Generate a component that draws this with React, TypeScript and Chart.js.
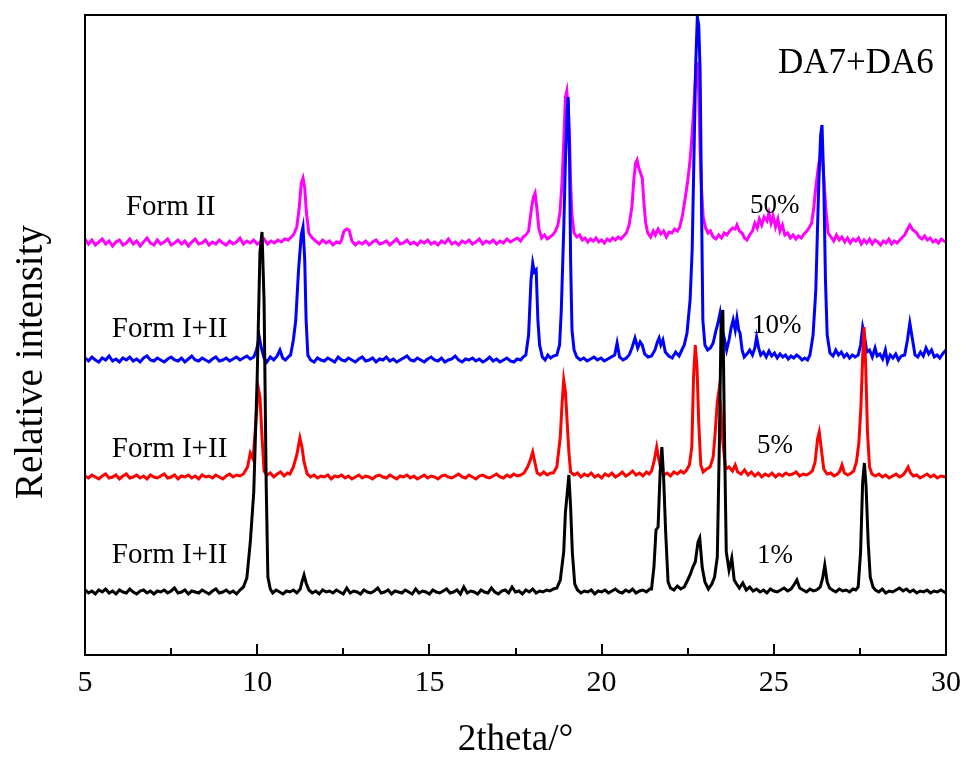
import React, { useEffect, useRef } from "react";
import { Chart, registerables } from "chart.js";

Chart.register(...registerables);

// Diffraction patterns, [2theta, intensity above own baseline]
const pattern1pct: [number, number][] = [
  [5.0, 2], [5.1, -1], [5.2, 1], [5.3, -2], [5.4, 2], [5.5, 0], [5.6, 3], [5.7, -1], [5.8, 1], [5.9, -2],
  [6.0, 2], [6.1, 0], [6.2, -1], [6.3, 3], [6.4, 0], [6.5, -2], [6.6, 1], [6.7, 2], [6.8, -1], [6.9, 1],
  [7.0, -2], [7.1, 1], [7.2, 0], [7.3, 2], [7.4, -1], [7.5, 1], [7.6, 4], [7.7, -1], [7.8, 0], [7.9, 2],
  [8.0, -2], [8.1, 1], [8.2, 0], [8.3, -1], [8.4, 2], [8.5, 0], [8.6, -2], [8.7, 1], [8.8, 3], [8.9, -1],
  [9.0, 0], [9.1, 2], [9.2, -1], [9.3, 1], [9.4, -2], [9.5, 2], [9.6, 5], [9.7, 14], [9.8, 50], [9.9, 100],
  [10.0, 215], [10.08, 340], [10.14, 360], [10.2, 290], [10.26, 110], [10.31, 15], [10.38, 3], [10.45, -1],
  [10.55, 2], [10.65, 0], [10.75, -2], [10.85, 1], [10.95, 0], [11.05, 2], [11.15, -1], [11.25, 3],
  [11.3, 10], [11.36, 17], [11.42, 9], [11.5, 2], [11.6, -1], [11.7, 1], [11.8, -2], [11.9, 2],
  [12.0, 0], [12.1, 1], [12.2, -1], [12.3, 2], [12.4, 0], [12.5, -2], [12.6, 4], [12.7, -1], [12.8, 1], [12.9, 0],
  [13.0, -2], [13.1, 2], [13.2, 0], [13.3, -1], [13.4, 1], [13.5, 4], [13.6, -1], [13.7, 0], [13.8, 2], [13.9, -2],
  [14.0, 1], [14.1, 0], [14.2, -1], [14.3, 2], [14.4, 0], [14.5, -2], [14.6, 3], [14.7, -1], [14.8, 1], [14.9, 0],
  [15.0, -2], [15.1, 2], [15.2, 0], [15.3, -1], [15.4, 1], [15.5, 3], [15.6, -1], [15.7, 0], [15.8, 2], [15.9, -2],
  [16.0, 5], [16.1, -1], [16.2, 1], [16.3, 0], [16.4, -2], [16.5, 2], [16.6, 0], [16.7, -1], [16.8, 4], [16.9, 0],
  [17.0, -2], [17.1, 1], [17.2, 2], [17.3, -1], [17.4, 5], [17.5, 0], [17.6, 1], [17.7, -2], [17.8, 2], [17.9, 0],
  [18.0, 3], [18.1, -1], [18.2, 1], [18.3, 0], [18.4, 2], [18.5, 1], [18.6, 3], [18.7, 4], [18.8, 12], [18.9, 40],
  [18.95, 80], [19.0, 98], [19.05, 117], [19.1, 85], [19.15, 40], [19.22, 8], [19.3, 2], [19.4, -1], [19.5, 1],
  [19.6, 0], [19.7, 2], [19.8, -2], [19.9, 1], [20.0, 0], [20.1, 2], [20.2, -1], [20.3, 1], [20.4, 3], [20.5, 0],
  [20.6, -1], [20.7, 2], [20.8, 0], [20.9, 3], [21.0, -1], [21.1, 1], [21.2, 2], [21.3, 0], [21.4, 3],
  [21.45, 3], [21.52, 25], [21.58, 62], [21.64, 65], [21.7, 120], [21.75, 145], [21.8, 115], [21.86, 60],
  [21.93, 10], [22.0, 4], [22.1, 2], [22.2, 6], [22.3, 3], [22.4, 5], [22.5, 12], [22.58, 18], [22.65, 25],
  [22.72, 30], [22.8, 50], [22.85, 54], [22.92, 25], [23.0, 10], [23.1, 3], [23.2, 8], [23.28, 15], [23.36, 35],
  [23.42, 150], [23.47, 270], [23.52, 282], [23.57, 150], [23.62, 40], [23.7, 22], [23.78, 34], [23.85, 12],
  [23.92, 8], [24.0, 4], [24.1, 9], [24.2, 2], [24.3, 5], [24.4, 1], [24.5, 3], [24.6, 0], [24.7, 2], [24.8, -1],
  [24.9, 3], [25.0, 1], [25.1, 0], [25.2, 2], [25.3, 4], [25.4, 1], [25.5, 3], [25.6, 8], [25.67, 12], [25.75, 4],
  [25.85, 2], [25.95, 0], [26.05, 3], [26.15, 1], [26.25, 2], [26.35, 5], [26.42, 14], [26.48, 27], [26.55, 10],
  [26.62, 4], [26.7, 2], [26.8, 0], [26.9, 3], [27.0, 1], [27.1, 2], [27.2, 0], [27.3, 3], [27.38, 2], [27.45, 5],
  [27.52, 40], [27.58, 110], [27.63, 129], [27.68, 105], [27.74, 50], [27.8, 15], [27.88, 5], [27.95, 2],
  [28.05, 0], [28.15, 3], [28.25, -1], [28.35, 1], [28.45, 0], [28.55, 2], [28.65, 4], [28.75, 1], [28.85, 3],
  [28.95, 0], [29.05, 2], [29.15, -1], [29.25, 1], [29.35, 0], [29.45, 2], [29.55, -1], [29.65, 1], [29.75, 0],
  [29.85, 2], [30.0, -1],
];

const pattern5pct: [number, number][] = [
  [5.0, 1], [5.1, -1], [5.2, 2], [5.3, 0], [5.4, -2], [5.5, 1], [5.6, 3], [5.7, -1], [5.8, 0], [5.9, 2],
  [6.0, -2], [6.1, 1], [6.2, 3], [6.3, -1], [6.4, 0], [6.5, 2], [6.6, -1], [6.7, 1], [6.8, -2], [6.9, 2],
  [7.0, 0], [7.1, -1], [7.2, 1], [7.3, 3], [7.4, -1], [7.5, 0], [7.6, 2], [7.7, -2], [7.8, 1], [7.9, 0],
  [8.0, 2], [8.1, -1], [8.2, 1], [8.3, -2], [8.4, 2], [8.5, 0], [8.6, 1], [8.7, -1], [8.8, 2], [8.9, 0],
  [9.0, -2], [9.1, 1], [9.2, 3], [9.3, 0], [9.4, 2], [9.5, 1], [9.6, 3], [9.72, 10], [9.8, 24], [9.88, 18],
  [9.95, 50], [10.03, 89], [10.08, 80], [10.14, 40], [10.2, 6], [10.28, 2], [10.38, 4], [10.48, 0], [10.58, 3],
  [10.68, 5], [10.78, 1], [10.88, 4], [10.95, 3], [11.05, 10], [11.15, 22], [11.24, 39], [11.3, 30], [11.36, 15],
  [11.45, 3], [11.55, 0], [11.65, 2], [11.75, -1], [11.85, 1], [11.95, 0], [12.05, 2], [12.15, -2], [12.25, 1],
  [12.35, 0], [12.45, 2], [12.55, -1], [12.65, 1], [12.75, -2], [12.85, 0], [12.95, 2], [13.05, -1], [13.15, 1],
  [13.25, 0], [13.35, -2], [13.45, 1], [13.55, 2], [13.65, 0], [13.75, -1], [13.85, 2], [13.95, 0], [14.05, -2],
  [14.15, 1], [14.25, 0], [14.35, 2], [14.45, -1], [14.55, 1], [14.65, -2], [14.75, 0], [14.85, 2], [14.95, -1],
  [15.05, 1], [15.15, 0], [15.25, -2], [15.35, 1], [15.45, 2], [15.55, 0], [15.65, -1], [15.75, 1], [15.85, 3],
  [15.95, 0], [16.05, -1], [16.15, 2], [16.25, 0], [16.35, -2], [16.45, 1], [16.55, 2], [16.65, 0], [16.75, -1],
  [16.85, 1], [16.95, 3], [17.05, 0], [17.15, -1], [17.25, 2], [17.35, 0], [17.45, 3], [17.55, 1], [17.65, 2],
  [17.75, 4], [17.85, 10], [17.93, 17], [18.0, 25], [18.06, 15], [18.13, 4], [18.22, 2], [18.32, 5], [18.42, 2],
  [18.52, 4], [18.6, 4], [18.7, 10], [18.8, 40], [18.85, 72], [18.9, 97], [18.95, 85], [19.0, 55], [19.05, 25],
  [19.1, 5], [19.2, 2], [19.3, 4], [19.4, 0], [19.5, 3], [19.6, 1], [19.7, 4], [19.8, 0], [19.9, 2], [20.0, -1],
  [20.1, 3], [20.2, 1], [20.3, 4], [20.4, 0], [20.5, 2], [20.6, 5], [20.7, 1], [20.8, 3], [20.9, 6], [21.0, 2],
  [21.1, 4], [21.2, 1], [21.3, 5], [21.38, 3], [21.45, 6], [21.52, 15], [21.6, 30], [21.66, 18], [21.72, 8],
  [21.8, 2], [21.9, 4], [22.0, 1], [22.1, 5], [22.2, 3], [22.3, 6], [22.38, 4], [22.45, 6], [22.55, 12],
  [22.62, 30], [22.67, 100], [22.72, 132], [22.77, 110], [22.82, 55], [22.88, 12], [22.95, 5], [23.05, 8],
  [23.15, 10], [23.24, 20], [23.3, 45], [23.36, 75], [23.41, 87], [23.46, 70], [23.52, 35], [23.6, 8],
  [23.7, 10], [23.8, 6], [23.88, 12], [23.95, 5], [24.05, 3], [24.15, 7], [24.25, 2], [24.35, 5], [24.45, 1],
  [24.55, 4], [24.65, 0], [24.75, 3], [24.85, 1], [24.95, 4], [25.05, 0], [25.15, 3], [25.25, 1], [25.35, 4],
  [25.45, 2], [25.55, 3], [25.65, 5], [25.75, 1], [25.85, 3], [25.95, 2], [26.05, 4], [26.12, 6], [26.2, 15],
  [26.27, 38], [26.32, 45], [26.38, 28], [26.45, 8], [26.55, 3], [26.65, 4], [26.75, 1], [26.85, 3], [26.92, 6],
  [26.98, 12], [27.05, 4], [27.15, 2], [27.25, 4], [27.32, 6], [27.4, 15], [27.47, 34], [27.53, 70], [27.58, 120],
  [27.62, 150], [27.67, 110], [27.72, 45], [27.78, 10], [27.85, 3], [27.95, 1], [28.05, 3], [28.15, 0],
  [28.25, 2], [28.35, -1], [28.45, 1], [28.55, 3], [28.65, 0], [28.75, 2], [28.82, 5], [28.9, 10], [28.97, 4],
  [29.05, 1], [29.15, 2], [29.25, -1], [29.35, 1], [29.45, 3], [29.55, 0], [29.65, 2], [29.75, -1], [29.85, 1],
  [30.0, 0],
];

const pattern10pct: [number, number][] = [
  [5.0, 2], [5.1, -1], [5.2, 3], [5.3, 0], [5.4, -2], [5.5, 2], [5.6, 0], [5.7, 4], [5.8, -1], [5.9, 1],
  [6.0, -2], [6.1, 2], [6.2, 0], [6.3, 3], [6.4, -1], [6.5, 1], [6.6, -2], [6.7, 2], [6.8, 4], [6.9, 0],
  [7.0, -1], [7.1, 2], [7.2, 0], [7.3, -2], [7.4, 1], [7.5, 3], [7.6, 0], [7.7, -1], [7.8, 2], [7.9, -2],
  [8.0, 1], [8.1, 4], [8.2, 0], [8.3, -1], [8.4, 2], [8.5, 0], [8.6, -2], [8.7, 1], [8.8, 3], [8.9, -1],
  [9.0, 0], [9.1, 2], [9.2, -1], [9.3, 1], [9.4, 3], [9.5, 0], [9.6, 2], [9.7, 4], [9.8, 1], [9.9, 3],
  [9.98, 10], [10.06, 23], [10.12, 12], [10.2, 2], [10.28, -2], [10.38, 3], [10.48, 0], [10.58, 4], [10.66, 10],
  [10.74, 2], [10.82, 0], [10.9, 3], [10.97, 5], [11.05, 20], [11.12, 40], [11.2, 90], [11.28, 125], [11.33, 133],
  [11.38, 100], [11.42, 40], [11.47, 5], [11.55, 0], [11.65, -2], [11.75, 2], [11.85, 0], [11.95, -1], [12.05, 2],
  [12.15, 0], [12.25, -2], [12.35, 3], [12.45, 0], [12.55, -1], [12.65, 2], [12.75, 0], [12.85, -2], [12.95, 1],
  [13.05, 3], [13.15, -1], [13.25, 0], [13.35, 2], [13.45, -2], [13.55, 1], [13.65, 0], [13.75, 3], [13.85, -1],
  [13.95, 1], [14.05, -2], [14.15, 0], [14.25, 2], [14.35, 4], [14.45, 0], [14.55, -1], [14.65, 2], [14.75, 0],
  [14.85, -2], [14.95, 1], [15.05, 3], [15.15, 0], [15.25, -1], [15.35, 2], [15.45, -2], [15.55, 0], [15.65, 1],
  [15.75, 4], [15.85, 0], [15.95, -2], [16.05, 1], [16.15, 0], [16.25, 2], [16.35, -1], [16.45, 1], [16.55, -2],
  [16.65, 0], [16.75, 3], [16.85, -1], [16.95, 1], [17.05, -2], [17.15, 0], [17.25, 2], [17.35, -1], [17.45, -2],
  [17.55, 1], [17.65, 0], [17.72, 3], [17.8, 5], [17.88, 25], [17.95, 80], [18.0, 97], [18.05, 88], [18.1, 90],
  [18.15, 40], [18.2, 15], [18.28, 3], [18.36, 0], [18.44, 5], [18.52, 2], [18.6, 4], [18.7, 5], [18.78, 15],
  [18.83, 50], [18.9, 130], [18.95, 200], [19.0, 250], [19.03, 263], [19.07, 200], [19.1, 100], [19.14, 30],
  [19.2, 10], [19.28, 3], [19.38, 0], [19.48, 2], [19.58, -1], [19.68, 1], [19.78, 3], [19.88, 0], [19.98, 2],
  [20.08, -1], [20.18, 1], [20.28, 3], [20.38, 5], [20.45, 17], [20.52, 3], [20.62, 0], [20.72, 2], [20.8, 5],
  [20.88, 12], [20.97, 22], [21.05, 12], [21.12, 18], [21.18, 15], [21.25, 6], [21.35, 3], [21.45, 4],
  [21.55, 10], [21.62, 18], [21.67, 22], [21.72, 15], [21.78, 20], [21.85, 8], [21.95, 4], [22.05, 2],
  [22.15, 8], [22.25, 4], [22.33, 10], [22.4, 15], [22.48, 27], [22.57, 60], [22.63, 110], [22.68, 200],
  [22.73, 293], [22.78, 343], [22.82, 335], [22.86, 290], [22.9, 160], [22.94, 40], [23.0, 15], [23.08, 10],
  [23.16, 12], [23.24, 17], [23.31, 28], [23.38, 37], [23.44, 47], [23.5, 30], [23.56, 22], [23.63, 10],
  [23.7, 20], [23.76, 32], [23.82, 40], [23.88, 30], [23.93, 42], [23.98, 30], [24.02, 27], [24.08, 10],
  [24.14, 3], [24.22, 6], [24.3, 10], [24.38, 5], [24.45, 12], [24.5, 23], [24.56, 12], [24.62, 5], [24.7, 8],
  [24.78, 3], [24.86, 9], [24.94, 4], [25.02, 7], [25.1, 2], [25.18, 6], [25.26, 3], [25.34, 5], [25.42, 1],
  [25.5, 4], [25.58, 2], [25.66, 5], [25.74, 3], [25.82, 0], [25.9, 2], [25.98, 0], [26.05, 5], [26.14, 25],
  [26.22, 70], [26.3, 170], [26.36, 225], [26.4, 235], [26.45, 180], [26.5, 80], [26.55, 25], [26.63, 7],
  [26.72, 4], [26.8, 10], [26.88, 5], [26.96, 8], [27.04, 3], [27.12, 6], [27.2, 2], [27.28, 5], [27.36, 3],
  [27.45, 5], [27.52, 15], [27.58, 33], [27.63, 25], [27.7, 8], [27.78, 10], [27.86, 3], [27.94, 12], [28.0, 4],
  [28.08, 6], [28.16, 1], [28.24, 10], [28.3, -2], [28.38, 5], [28.46, 2], [28.54, 6], [28.62, 0], [28.7, 4],
  [28.8, 5], [28.88, 20], [28.95, 37], [29.02, 22], [29.1, 5], [29.18, 3], [29.26, 8], [29.34, 4], [29.42, 12],
  [29.5, 6], [29.58, 10], [29.66, 3], [29.74, 5], [29.82, 2], [29.9, 6], [30.0, 10],
];

const pattern50pct: [number, number][] = [
  [5.0, 4], [5.1, -1], [5.2, 3], [5.3, -2], [5.4, 1], [5.5, 4], [5.6, -1], [5.7, 2], [5.8, -3], [5.9, 1],
  [6.0, 3], [6.1, -2], [6.2, 0], [6.3, 4], [6.4, -1], [6.5, 2], [6.6, -3], [6.7, 1], [6.8, 5], [6.9, 0],
  [7.0, -2], [7.1, 3], [7.2, -1], [7.3, 1], [7.4, 4], [7.5, -2], [7.6, 0], [7.7, 3], [7.8, -1], [7.9, 2],
  [8.0, -3], [8.1, 1], [8.2, 4], [8.3, -1], [8.4, 0], [8.5, 3], [8.6, -2], [8.7, 1], [8.8, -1], [8.9, 3],
  [9.0, 0], [9.1, -2], [9.2, 2], [9.3, -1], [9.4, 1], [9.5, 5], [9.6, -1], [9.7, 2], [9.8, 0], [9.9, 3],
  [10.0, -1], [10.1, 1], [10.2, 4], [10.3, -1], [10.4, 2], [10.5, 0], [10.6, 3], [10.7, 1], [10.8, 4], [10.9, 3],
  [11.05, 8], [11.15, 16], [11.22, 35], [11.28, 60], [11.33, 65], [11.38, 55], [11.43, 30], [11.5, 10],
  [11.6, 5], [11.7, 2], [11.8, -1], [11.9, 3], [12.0, 0], [12.1, 2], [12.2, -2], [12.3, 1], [12.4, 0],
  [12.45, 3], [12.52, 12], [12.6, 14], [12.67, 13], [12.75, 2], [12.85, -2], [12.95, 1], [13.05, -1],
  [13.15, 2], [13.25, -2], [13.35, 1], [13.45, 3], [13.55, -1], [13.65, 0], [13.75, 2], [13.85, -2], [13.95, 1],
  [14.05, 4], [14.15, -1], [14.25, 0], [14.35, 3], [14.45, -1], [14.55, 1], [14.65, -2], [14.75, 2], [14.85, 0],
  [14.95, 3], [15.05, -1], [15.15, 1], [15.25, -2], [15.35, 2], [15.45, 0], [15.55, 4], [15.65, -1], [15.75, 1],
  [15.85, -2], [15.95, 2], [16.05, 0], [16.15, 3], [16.25, -1], [16.35, 1], [16.45, 4], [16.55, -1], [16.65, 2],
  [16.75, 0], [16.85, 3], [16.95, -1], [17.05, 2], [17.15, 0], [17.25, 4], [17.35, 1], [17.45, 3], [17.55, 5],
  [17.65, 2], [17.72, 6], [17.8, 8], [17.88, 12], [17.97, 36], [18.02, 46], [18.07, 50], [18.12, 35],
  [18.18, 14], [18.26, 5], [18.34, 8], [18.42, 4], [18.5, 6], [18.58, 8], [18.66, 12], [18.73, 18], [18.79, 30],
  [18.85, 60], [18.9, 100], [18.95, 146], [18.99, 152], [19.03, 135], [19.07, 105], [19.1, 60], [19.14, 28],
  [19.2, 10], [19.28, 6], [19.36, 8], [19.44, 3], [19.52, 5], [19.6, 1], [19.68, 4], [19.76, 2], [19.84, 5],
  [19.92, 1], [20.0, 3], [20.08, 0], [20.16, 4], [20.24, 2], [20.32, 5], [20.4, 3], [20.48, 6], [20.56, 4],
  [20.64, 7], [20.72, 10], [20.8, 18], [20.88, 36], [20.94, 65], [20.99, 80], [21.03, 83], [21.08, 75],
  [21.13, 70], [21.18, 65], [21.23, 40], [21.28, 20], [21.34, 10], [21.42, 6], [21.5, 12], [21.56, 8],
  [21.64, 14], [21.72, 9], [21.8, 12], [21.88, 6], [21.96, 11], [22.04, 10], [22.12, 14], [22.2, 12],
  [22.27, 16], [22.35, 28], [22.42, 43], [22.5, 62], [22.57, 83], [22.62, 105], [22.66, 126], [22.7, 150],
  [22.74, 176], [22.78, 178], [22.82, 150], [22.86, 93], [22.9, 55], [22.95, 26], [23.02, 15], [23.09, 10],
  [23.16, 12], [23.24, 6], [23.32, 4], [23.4, 8], [23.48, 5], [23.56, 10], [23.64, 8], [23.72, 12], [23.8, 15],
  [23.88, 14], [23.93, 18], [24.0, 12], [24.08, 10], [24.15, 5], [24.22, 3], [24.3, 8], [24.38, 12], [24.45, 20],
  [24.52, 15], [24.58, 24], [24.65, 18], [24.72, 26], [24.8, 22], [24.86, 30], [24.92, 20], [24.98, 27],
  [25.05, 16], [25.12, 24], [25.18, 12], [25.25, 18], [25.32, 8], [25.4, 10], [25.48, 5], [25.56, 8], [25.64, 4],
  [25.72, 7], [25.8, 5], [25.88, 9], [25.96, 12], [26.04, 16], [26.1, 20], [26.16, 35], [26.22, 56], [26.3, 78],
  [26.37, 90], [26.42, 80], [26.46, 60], [26.52, 30], [26.58, 10], [26.66, 6], [26.74, 2], [26.82, 8], [26.9, 3],
  [26.98, 6], [27.06, 1], [27.14, 5], [27.22, 0], [27.3, 4], [27.38, 2], [27.46, 5], [27.54, -1], [27.62, 3],
  [27.7, 0], [27.78, 4], [27.86, -1], [27.94, 3], [28.02, 1], [28.1, -2], [28.18, 2], [28.26, 0], [28.34, 4],
  [28.42, -1], [28.5, 2], [28.58, 0], [28.66, 3], [28.74, 6], [28.8, 8], [28.87, 13], [28.95, 18], [29.02, 14],
  [29.08, 12], [29.15, 10], [29.22, 6], [29.3, 4], [29.38, 7], [29.46, 3], [29.54, 5], [29.62, 1], [29.7, 3],
  [29.78, 0], [29.86, 4], [29.94, 2], [30.0, 1],
];

// Stacking offsets applied to each pattern (same order as below)
const sampleLabels = ["1%", "5%", "10%", "50%"];
const formLabels = ["Form I+II", "Form I+II", "Form I+II", "Form II"];
const stackOffsets = [63, 178, 295, 412];
const patterns = [pattern1pct, pattern5pct, pattern10pct, pattern50pct];
const lineColors = ["#000000", "#ff0000", "#0000ff", "#ff00ff"];

const xMin = 5;
const xMax = 30;
const xMajorStep = 5;
const xMinorStep = 2.5;
const yMax = 640;

// Text anchors in data coordinates: [2theta, value] at the text baseline
const formLabelAnchors: [number, number][] = [[5.78, 92], [5.78, 198], [5.78, 318], [6.19, 440]];
const percentLabelAnchors: [number, number][] = [[24.51, 92], [24.51, 202], [24.37, 322], [24.31, 442]];
const sampleTitle = "DA7+DA6";
const sampleTitleAnchor: [number, number] = [25.12, 582];

const SERIF = '"Liberation Serif", "Times New Roman", serif';

const decorPlugin = {
  id: "xrdDecor",
  afterDraw(chart: any) {
    const { ctx, chartArea, scales } = chart;
    const xs = scales.x;
    const ys = scales.y;
    ctx.save();

    // frame
    ctx.strokeStyle = "#000";
    ctx.lineWidth = 2;
    ctx.strokeRect(chartArea.left, chartArea.top, chartArea.right - chartArea.left, chartArea.bottom - chartArea.top);

    // inward ticks on the bottom axis
    ctx.lineWidth = 2;
    for (let v = xMin; v <= xMax + 1e-9; v += xMinorStep) {
      const px = Math.round(xs.getPixelForValue(v));
      const major = Math.abs(v / xMajorStep - Math.round(v / xMajorStep)) < 1e-6;
      const len = major ? 11 : 7;
      ctx.beginPath();
      ctx.moveTo(px, chartArea.bottom);
      ctx.lineTo(px, chartArea.bottom - len);
      ctx.stroke();
    }

    ctx.fillStyle = "#000";
    ctx.textBaseline = "alphabetic";

    // form labels
    ctx.font = `29px ${SERIF}`;
    ctx.textAlign = "left";
    formLabels.forEach((t, i) => {
      const [ax, ay] = formLabelAnchors[i];
      ctx.fillText(t, xs.getPixelForValue(ax), ys.getPixelForValue(ay));
    });

    // concentration labels
    ctx.font = `27px ${SERIF}`;
    sampleLabels.forEach((t, i) => {
      const [ax, ay] = percentLabelAnchors[i];
      ctx.fillText(t, xs.getPixelForValue(ax), ys.getPixelForValue(ay));
    });

    // sample title
    ctx.font = `35px ${SERIF}`;
    ctx.fillText(sampleTitle, xs.getPixelForValue(sampleTitleAnchor[0]), ys.getPixelForValue(sampleTitleAnchor[1]));

    // axis titles
    ctx.font = `37px ${SERIF}`;
    ctx.textAlign = "center";
    ctx.fillText("2theta/°", (chartArea.left + chartArea.right) / 2, chartArea.bottom + 95);

    ctx.font = `39px ${SERIF}`;
    ctx.translate(42, (chartArea.top + chartArea.bottom) / 2 + 27);
    ctx.rotate(-Math.PI / 2);
    ctx.fillText("Relative intensity", 0, 0);

    ctx.restore();
  },
};

export default function App() {
  const canvasRef = useRef<HTMLCanvasElement | null>(null);

  useEffect(() => {
    if (!canvasRef.current) return;
    const datasets = patterns.map((p, i) => ({
      label: sampleLabels[i],
      data: p.map(([x, y]) => ({ x, y: y + stackOffsets[i] })),
      borderColor: lineColors[i],
      backgroundColor: lineColors[i],
      borderWidth: 3,
      pointRadius: 0,
      tension: 0,
      fill: false,
    }));

    const chart = new Chart(canvasRef.current, {
      type: "line",
      data: { datasets },
      options: {
        animation: false,
        responsive: true,
        maintainAspectRatio: false,
        parsing: false as any,
        layout: { padding: { left: 0, right: 21, top: 15, bottom: 0 } },
        plugins: { legend: { display: false }, tooltip: { enabled: false } },
        scales: {
          x: {
            type: "linear",
            min: xMin,
            max: xMax,
            ticks: {
              stepSize: xMajorStep,
              color: "#000",
              font: { family: SERIF, size: 30, lineHeight: 1.9 },
              padding: 0,
              maxRotation: 0,
            },
            grid: { display: false, drawTicks: false },
            border: { display: false },
            afterFit: (s: any) => {
              s.height = 107;
            },
          },
          y: {
            type: "linear",
            min: 0,
            max: yMax,
            ticks: { display: false },
            grid: { display: false, drawTicks: false },
            border: { display: false },
            afterFit: (s: any) => {
              s.width = 85;
            },
          },
        },
      },
      plugins: [decorPlugin],
    });
    return () => chart.destroy();
  }, []);

  return (
    <div style={{ position: "fixed", left: 0, top: 0, width: 967, height: 762, background: "#fff" }}>
      <canvas ref={canvasRef} />
    </div>
  );
}
